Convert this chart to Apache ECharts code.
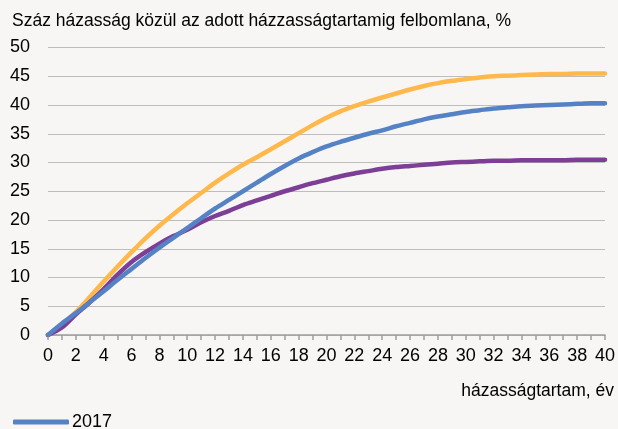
<!DOCTYPE html>
<html>
<head>
<meta charset="utf-8">
<script src="https://cdn.jsdelivr.net/npm/echarts@6/dist/echarts.min.js"></script>
<style>
  html, body { margin: 0; padding: 0; background: #f7f6f4; }
  #chart { width: 618px; height: 429px; }
</style>
</head>
<body>
<div id="chart"></div>
<script>
// házasságtartam, év (0..40)
const years = [];
for (let i = 0; i <= 40; i++) years.push(String(i));

// leolvasott értékek, %
const series2017 = [0, 2.0, 3.8, 5.7, 7.6, 9.6, 11.5, 13.4, 15.2, 16.9,
  18.6, 20.3, 22.0, 23.5, 25.0, 26.5, 28.0, 29.4, 30.7, 31.8,
  32.8, 33.6, 34.3, 35.0, 35.6, 36.3, 36.9, 37.5, 38.0, 38.4,
  38.8, 39.1, 39.4, 39.6, 39.8, 39.9, 40.0, 40.1, 40.2, 40.3, 40.3];
const seriesOrange = [0, 1.8, 4.0, 6.6, 9.3, 11.9, 14.4, 16.8, 19.0, 21.0,
  22.9, 24.7, 26.5, 28.1, 29.6, 30.9, 32.3, 33.7, 35.1, 36.5,
  37.8, 38.9, 39.8, 40.6, 41.3, 42.0, 42.7, 43.3, 43.8, 44.2,
  44.5, 44.8, 45.0, 45.1, 45.2, 45.3, 45.4, 45.4, 45.5, 45.5, 45.5];
const seriesPurple = [0, 1.3, 3.6, 5.7, 8.0, 10.5, 12.7, 14.4, 15.9, 17.2,
  18.3, 19.6, 20.7, 21.6, 22.6, 23.4, 24.2, 25.0, 25.7, 26.4,
  27.0, 27.6, 28.1, 28.5, 28.9, 29.2, 29.4, 29.6, 29.8, 30.0,
  30.1, 30.2, 30.3, 30.3, 30.4, 30.4, 30.4, 30.4, 30.5, 30.5, 30.5];

const FONT = '"Liberation Sans", Arial, sans-serif';

const chart = echarts.init(document.getElementById('chart'));
chart.setOption({
  backgroundColor: '#f7f6f4',
  animation: false,
  title: [
    {
      text: 'Száz házasság közül az adott házzasságtartamig felbomlana, %',
      left: 12,
      top: 12,
      padding: 0,
      textStyle: { fontFamily: FONT, fontSize: 17.5, fontWeight: 'normal', color: '#000' }
    },
    {
      text: 'házasságtartam, év',
      right: 4,
      top: 382,
      padding: 0,
      textStyle: { fontFamily: FONT, fontSize: 17.5, fontWeight: 'normal', color: '#000' }
    }
  ],
  legend: {
    data: ['2017'],
    left: 13,
    top: 413,
    padding: 0,
    itemWidth: 56,
    itemHeight: 5,
    icon: 'roundRect',
    textStyle: { fontFamily: FONT, fontSize: 18, color: '#000', padding: [0, 0, 0, -2] }
  },
  grid: { left: 48, right: 9, top: 47.5, bottom: 94, containLabel: false },
  xAxis: {
    type: 'category',
    data: years,
    boundaryGap: false,
    axisLine: { lineStyle: { color: '#9e9e9e', width: 1.5 } },
    axisTick: { interval: 0, length: 5, lineStyle: { color: '#9e9e9e', width: 1.5 } },
    axisLabel: { interval: 1, margin: 12, fontFamily: FONT, fontSize: 18, color: '#000' },
    splitLine: { show: false }
  },
  yAxis: {
    type: 'value',
    min: 0,
    max: 50,
    interval: 5,
    axisLine: { show: false },
    axisTick: { show: false },
    axisLabel: { margin: 18, fontFamily: FONT, fontSize: 18, color: '#000' },
    splitLine: { lineStyle: { color: '#bdbdbd', width: 1.2 } }
  },
  series: [
    {
      name: 'sor2',
      type: 'line',
      data: seriesOrange,
      smooth: 0.3,
      symbol: 'none',
      lineStyle: { color: '#ffb84c', width: 4.5, cap: 'round' },
      itemStyle: { color: '#ffb84c' }
    },
    {
      name: 'sor3',
      type: 'line',
      data: seriesPurple,
      smooth: 0.3,
      symbol: 'none',
      lineStyle: { color: '#7d3e96', width: 4.5, cap: 'round' },
      itemStyle: { color: '#7d3e96' }
    },
    {
      name: '2017',
      type: 'line',
      data: series2017,
      smooth: 0.3,
      symbol: 'none',
      lineStyle: { color: '#5582c5', width: 4.5, cap: 'round' },
      itemStyle: { color: '#5582c5' }
    }
  ]
});
</script>
</body>
</html>
